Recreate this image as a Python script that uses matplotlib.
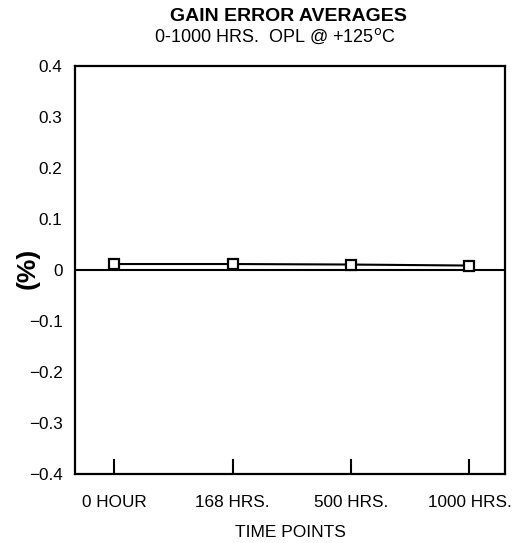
import matplotlib
matplotlib.use("Agg")
import matplotlib.pyplot as plt

plt.rcParams['font.family'] = ['Liberation Sans', 'DejaVu Sans']

# data
time_points = ["0 HOUR", "168 HRS.", "500 HRS.", "1000 HRS."]
gain_error = [0.012, 0.012, 0.011, 0.009]
y_ticks = [-0.4, -0.3, -0.2, -0.1, 0, 0.1, 0.2, 0.3, 0.4]
y_labels = ["\u22120.4", "\u22120.3", "\u22120.2", "\u22120.1", "0", "0.1", "0.2", "0.3", "0.4"]

fig = plt.figure(figsize=(5.26, 5.43), dpi=100)
ax = fig.add_axes([0.1426, 0.127, 0.8174, 0.751])

x = list(range(len(time_points)))
ax.plot(x, gain_error, color="black", lw=1.5, marker="s", ms=7,
        mfc="white", mec="black", mew=1.6, zorder=3)
ax.axhline(0, color="black", lw=1.5, zorder=2)

ax.set_xlim(-0.33, 3.3)
ax.set_ylim(-0.4, 0.4)
ax.set_xticks(x)
ax.set_xticklabels(time_points, fontsize=12.3)
ax.set_yticks(y_ticks)
ax.set_yticklabels(y_labels, fontsize=12.3)
ax.tick_params(axis="x", direction="in", length=11, width=1.5, pad=15)
ax.tick_params(axis="y", length=0, pad=9)
for s in ax.spines.values():
    s.set_linewidth(1.6)

ax.set_xlabel("TIME POINTS", fontsize=12.5, labelpad=11)
fig.text(28 / 526, 1 - 268 / 543, "(%)", rotation=90, ha="center", va="center",
         fontsize=19, fontweight="bold")

fig.text(288 / 526, 0.970, "GAIN ERROR AVERAGES", ha="center", va="center",
         fontsize=14, fontweight="bold")
fig.text(275 / 526, 0.933, "0-1000 HRS.  OPL @ +125$^{\\rm o}$C", ha="center",
         va="center", fontsize=13)

fig.savefig("out.png", dpi=100)
